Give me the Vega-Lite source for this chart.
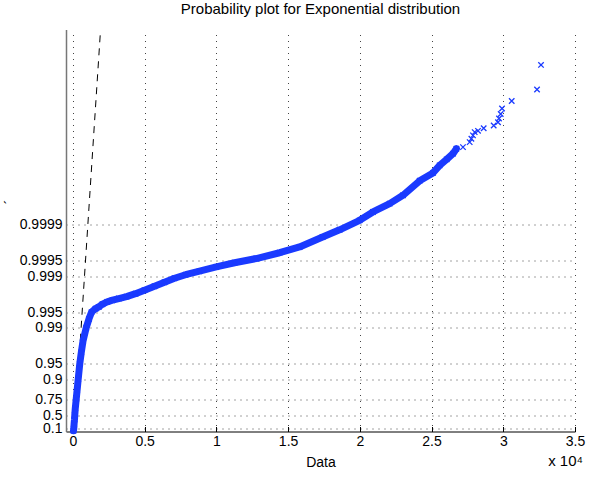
{
  "$schema": "https://vega.github.io/schema/vega-lite/v6.json",
  "width": 509,
  "height": 402,
  "autosize": "none",
  "padding": {"left": 66, "top": 29.5, "right": 14, "bottom": 48.5},
  "background": "white",
  "title": {"text": "Probability plot for Exponential distribution", "frame": "group", "anchor": "middle", "offset": 1, "baseline": "alphabetic", "font": "Liberation Sans", "fontSize": 15, "fontWeight": "normal", "color": "#000"},
  "config": {"view": {"stroke": null}},
  "datasets": {
    "ref": [{"x": 104, "q": 1.036}, {"x": 1929, "q": 1.63e-8}],
    "pts": [
      {"x": 42, "q": 0.9999, "seg": "band"},
      {"x": 63, "q": 0.907, "seg": "band"},
      {"x": 84, "q": 0.742, "seg": "band"},
      {"x": 112, "q": 0.607, "seg": "band"},
      {"x": 132, "q": 0.496, "seg": "band"},
      {"x": 167, "q": 0.368, "seg": "band"},
      {"x": 230, "q": 0.246, "seg": "band"},
      {"x": 293, "q": 0.165, "seg": "band"},
      {"x": 370, "q": 0.1003, "seg": "band"},
      {"x": 481, "q": 0.0498, "seg": "band"},
      {"x": 586, "q": 0.0302, "seg": "band"},
      {"x": 704, "q": 0.01825, "seg": "band"},
      {"x": 928, "q": 0.01003, "seg": "band"},
      {"x": 1123, "q": 0.00674, "seg": "band"},
      {"x": 1297, "q": 0.005, "seg": "band"},
      {"x": 1576, "q": 0.00428, "seg": "band"},
      {"x": 1806, "q": 0.00395, "seg": "band"},
      {"x": 2064, "q": 0.0035, "seg": "band"},
      {"x": 2392, "q": 0.00316, "seg": "band"},
      {"x": 2762, "q": 0.00293, "seg": "band"},
      {"x": 3201, "q": 0.00272, "seg": "band"},
      {"x": 3738, "q": 0.0025, "seg": "band"},
      {"x": 4366, "q": 0.00219, "seg": "band"},
      {"x": 4993, "q": 0.00187, "seg": "band"},
      {"x": 5691, "q": 0.00157, "seg": "band"},
      {"x": 6388, "q": 0.00131, "seg": "band"},
      {"x": 7086, "q": 0.0011, "seg": "band"},
      {"x": 7853, "q": 0.000938, "seg": "band"},
      {"x": 8829, "q": 0.000802, "seg": "band"},
      {"x": 9994, "q": 0.000662, "seg": "band"},
      {"x": 11270, "q": 0.000549, "seg": "band"},
      {"x": 12783, "q": 0.000455, "seg": "band"},
      {"x": 14408, "q": 0.000351, "seg": "band"},
      {"x": 15803, "q": 0.000271, "seg": "band"},
      {"x": 17407, "q": 0.000174, "seg": "band"},
      {"x": 18593, "q": 0.000126, "seg": "band"},
      {"x": 19988, "q": 0.0000825, "seg": "band"},
      {"x": 20915, "q": 0.0000568, "seg": "band"},
      {"x": 22080, "q": 0.0000391, "seg": "band"},
      {"x": 23007, "q": 0.000027, "seg": "band"},
      {"x": 24172, "q": 0.0000141, "seg": "band"},
      {"x": 25100, "q": 0.0000099, "seg": "band"},
      {"x": 25567, "q": 0.00000707, "seg": "band"},
      {"x": 26055, "q": 0.00000541, "seg": "band"},
      {"x": 26494, "q": 0.00000419, "seg": "band"},
      {"x": 26731, "q": 0.00000336, "seg": "band"},
      {"x": 27191, "q": 0.00000313, "seg": "tail"},
      {"x": 27659, "q": 0.0000025, "seg": "tail"},
      {"x": 27778, "q": 0.00000215, "seg": "tail"},
      {"x": 27889, "q": 0.00000185, "seg": "tail"},
      {"x": 28008, "q": 0.0000016, "seg": "tail"},
      {"x": 28238, "q": 0.00000151, "seg": "tail"},
      {"x": 28635, "q": 0.00000135, "seg": "tail"},
      {"x": 29332, "q": 0.00000119, "seg": "tail"},
      {"x": 29632, "q": 0.00000103, "seg": "tail"},
      {"x": 29702, "q": 0.000000873, "seg": "tail"},
      {"x": 29821, "q": 0.000000714, "seg": "tail"},
      {"x": 29912, "q": 0.000000556, "seg": "tail"},
      {"x": 30588, "q": 0.000000397, "seg": "tail"},
      {"x": 32353, "q": 0.000000238, "seg": "tail"},
      {"x": 32631, "q": 0.0000000794, "seg": "tail"}
    ],
    "note": [{"label": "x 10⁴"}]
  },
  "layer": [
    {
      "data": {"name": "ref"},
      "mark": {"type": "line", "color": "#000", "strokeWidth": 1, "strokeDash": [7, 6], "clip": true},
      "encoding": {
        "x": {
          "field": "x", "type": "quantitative",
          "scale": {"domain": [-480, 35000], "nice": false, "zero": false},
          "axis": {
            "values": [0, 5000, 10000, 15000, 20000, 25000, 30000, 35000],
            "labelExpr": "format(datum.value / 10000, '.1~f')",
            "grid": true, "gridDash": [1, 5], "gridColor": "#444", "gridWidth": 1,
            "domainColor": "#000", "domainWidth": 1,
            "ticks": true, "tickSize": -5, "tickColor": "#000",
            "labelFont": "Liberation Sans", "labelFontSize": 14, "labelColor": "#000",
            "labelBaseline": "top", "labelPadding": 8, "labelFlush": false, "labelOverlap": false,
            "title": "Data", "titleFont": "Liberation Sans", "titleFontSize": 14, "titleFontWeight": "normal", "titleColor": "#000",
            "titleBaseline": "alphabetic", "titleY": 35
          }
        },
        "y": {
          "field": "q", "type": "quantitative",
          "scale": {"type": "log", "domain": [1.63e-8, 1.036], "reverse": true, "nice": false},
          "axis": {
            "values": [0.9, 0.5, 0.25, 0.1, 0.05, 0.01, 0.005, 0.001, 0.0005, 0.0001],
            "labelExpr": "format(1 - datum.value, '.4~f')",
            "grid": true, "gridDash": [1, 5], "gridColor": "#444", "gridWidth": 1,
            "domainColor": "#777", "domainWidth": 1.5,
            "ticks": false, "labelPadding": 4, "labelOverlap": false, "labelFlush": false, "labelBound": false,
            "labelFont": "Liberation Sans", "labelFontSize": 14, "labelColor": "#000",
            "title": "´", "titleFont": "Liberation Sans", "titleFontSize": 14, "titleFontWeight": "normal", "titleColor": "#000",
            "titleX": -56, "titleY": 172, "titleBaseline": "middle"
          }
        }
      }
    },
    {
      "data": {"name": "pts"},
      "transform": [{"filter": "datum.seg === 'band'"}],
      "mark": {"type": "line", "color": "#1a3aff", "strokeWidth": 7, "strokeCap": "round", "strokeJoin": "round"},
      "encoding": {
        "x": {"field": "x", "type": "quantitative"},
        "y": {"field": "q", "type": "quantitative"}
      }
    },
    {
      "data": {"name": "pts"},
      "mark": {"type": "point", "shape": "M-1,-1L1,1M1,-1L-1,1", "filled": false, "size": 30, "strokeWidth": 1.3, "color": "#1a3aff", "opacity": 1},
      "encoding": {
        "x": {"field": "x", "type": "quantitative"},
        "y": {"field": "q", "type": "quantitative"}
      }
    },
    {
      "data": {"name": "note"},
      "mark": {"type": "text", "align": "right", "baseline": "alphabetic", "dx": 8, "dy": 34, "font": "Liberation Sans", "fontSize": 15, "color": "#000", "clip": false},
      "encoding": {
        "text": {"field": "label"},
        "x": {"datum": 35000, "type": "quantitative"},
        "y": {"datum": 1.036, "type": "quantitative"}
      }
    }
  ]
}
